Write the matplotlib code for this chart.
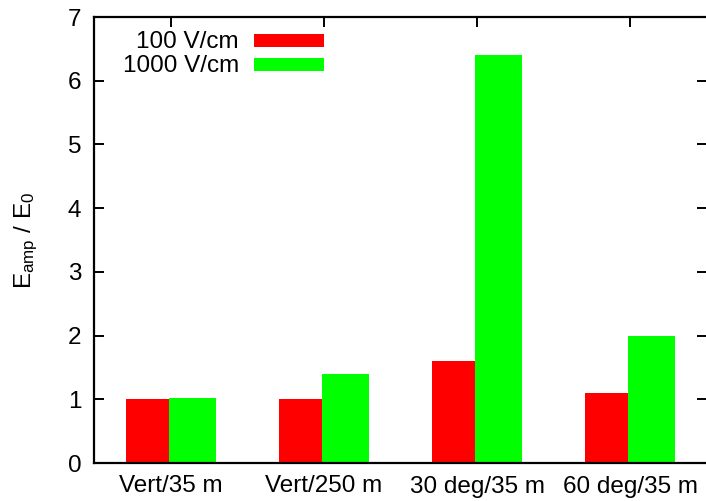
import matplotlib
matplotlib.use("Agg")
import matplotlib.pyplot as plt
from matplotlib.patches import Rectangle
import numpy as np

categories = ["Vert/35 m", "Vert/250 m", "30 deg/35 m", "60 deg/35 m"]
series_names = ["100 V/cm", "1000 V/cm"]
vals_100 = [1.0, 1.0, 1.6, 1.1]
vals_1000 = [1.02, 1.4, 6.4, 2.0]
yticks = [0, 1, 2, 3, 4, 5, 6, 7]

plt.rcParams['font.family'] = ['Liberation Sans', 'DejaVu Sans']
plt.rcParams['mathtext.fontset'] = 'custom'
plt.rcParams['mathtext.rm'] = 'Liberation Sans'
plt.rcParams['mathtext.it'] = 'Liberation Sans'

W, H = 706, 501
fig = plt.figure(figsize=(W / 100, H / 100), dpi=100)
ax = fig.add_axes([94 / W, 38 / H, 613 / W, 446 / H])

x = np.arange(len(categories))
red, green = "#ff0000", "#00ff00"
ax.bar(x - 0.294, vals_100, width=0.281, align='edge', color=red, linewidth=0, zorder=3)
ax.bar(x - 0.013, vals_1000, width=0.307, align='edge', color=green, linewidth=0, zorder=3)

ax.set_xlim(-0.5, 3.5)
ax.set_ylim(0, 7)
ax.set_xticks(x)
ax.set_xticklabels(categories)
ax.set_yticks(yticks)

fs = 17.5
ax.tick_params(axis='y', direction='in', length=7, width=1.4, left=True, right=True,
               labelsize=fs, pad=9)
ax.tick_params(axis='x', direction='in', length=7, width=1.4, bottom=False, top=True,
               labelsize=fs, pad=9)
for s in ax.spines.values():
    s.set_linewidth(1.6)
    s.set_zorder(4)
ax.spines['right'].set_visible(False)

ax.set_ylabel(r"E$_{\mathrm{amp}}$ / E$_0$", fontsize=fs, labelpad=20)

# legend drawn manually
def fx(px):
    return px / W
def fy(py):
    return 1 - py / H

for i, (name, col) in enumerate(zip(series_names, [red, green])):
    top = 34 + i * 24.3
    fig.text(fx(239), fy(top + 14), name, ha='right', va='baseline', fontsize=fs)
    fig.patches.append(Rectangle((fx(254), fy(top + 13)), fx(324) - fx(254),
                                 13 / H, transform=fig.transFigure,
                                 facecolor=col, edgecolor='none', figure=fig))

fig.savefig("out.png", dpi=100)
